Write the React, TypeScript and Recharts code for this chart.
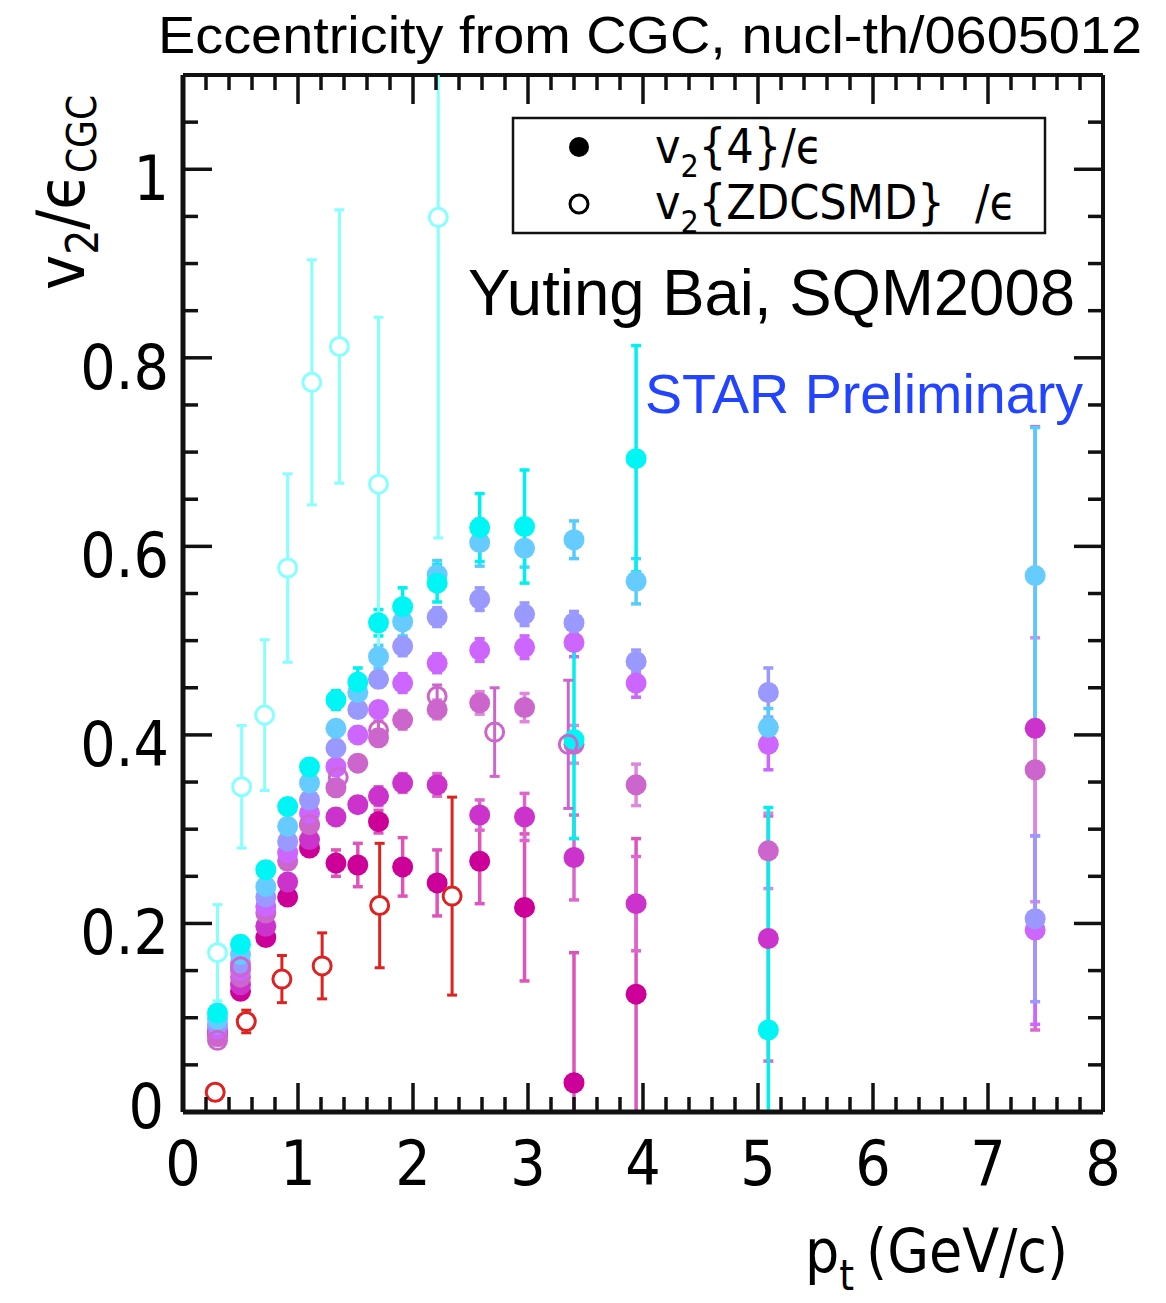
import React from 'react';
import { ScatterChart, Scatter, XAxis, YAxis, ErrorBar, ReferenceLine } from 'recharts';

// chart geometry (page pixels)
const W = 1166;
const H = 1303;
const PLOT_LEFT = 183;
const PLOT_TOP = 75;
const PLOT_RIGHT = 1103;
const PLOT_BOTTOM = 1112;
const PLOT_W = PLOT_RIGHT - PLOT_LEFT;
const PLOT_H = PLOT_BOTTOM - PLOT_TOP;

const NARROW = "'Liberation Sans Narrow', 'DejaVu Sans Condensed', sans-serif";
const ARIAL = "'Liberation Sans', Arial, sans-serif";

// tick labels
const xTickLabels = [0, 1, 2, 3, 4, 5, 6, 7, 8];
const yTickLabels = [0, 0.2, 0.4, 0.6, 0.8, 1];

// pt bins of the v2{4} points (GeV/c)
const ptBins = [0.3, 0.5, 0.72, 0.91, 1.1, 1.33, 1.52, 1.7, 1.91, 2.21, 2.58, 2.97, 3.4, 3.94, 5.09, 7.41];

// v2{4}/eps, one array per centrality class (most central first)
const v4Cyan = [0.105, 0.178, 0.257, 0.324, 0.366, 0.437, 0.456, 0.519, 0.536, 0.561, 0.62, 0.621, 0.395, 0.693, 0.087, null];
const v4CyanErr = [0.008, 0.008, 0.008, 0.008, 0.008, 0.01, 0.015, 0.014, 0.02, 0.02, 0.036, 0.06, 0.105, 0.12, 0.236, 0];
const v4LightBlue = [0.098, 0.167, 0.239, 0.303, 0.349, 0.407, 0.445, 0.483, 0.52, 0.57, 0.604, 0.598, 0.607, 0.563, 0.408, 0.569];
const v4LightBlueErr = [0.005, 0.005, 0.005, 0.006, 0.006, 0.008, 0.01, 0.012, 0.015, 0.015, 0.025, 0.02, 0.02, 0.024, 0.02, 0.157];
const v4Periwinkle = [0.093, 0.158, 0.228, 0.287, 0.331, 0.386, 0.427, 0.459, 0.494, 0.525, 0.544, 0.528, 0.519, 0.478, 0.445, 0.205];
const v4PeriwinkleErr = [0.005, 0.005, 0.005, 0.005, 0.006, 0.006, 0.008, 0.008, 0.01, 0.01, 0.012, 0.012, 0.012, 0.012, 0.026, 0.088];
const v4Violet = [0.088, 0.15, 0.218, 0.275, 0.317, 0.366, 0.4, 0.427, 0.455, 0.476, 0.49, 0.493, 0.498, 0.455, 0.39, 0.193];
const v4VioletErr = [0.005, 0.005, 0.005, 0.005, 0.006, 0.006, 0.008, 0.008, 0.01, 0.01, 0.012, 0.012, 0.015, 0.015, 0.027, 0.1];
const v4Orchid = [0.08, 0.143, 0.211, 0.266, 0.305, 0.344, 0.37, 0.397, 0.416, 0.427, 0.434, 0.429, 0.39, 0.347, 0.277, 0.363];
const v4OrchidErr = [0.005, 0.005, 0.005, 0.005, 0.006, 0.006, 0.008, 0.008, 0.01, 0.01, 0.012, 0.015, 0.02, 0.022, 0.04, 0.14];
const v4Magenta = [0.082, 0.135, 0.197, 0.244, 0.289, 0.313, 0.326, 0.335, 0.349, 0.347, 0.315, 0.313, 0.27, 0.221, 0.184, 0.407];
const v4MagentaErr = [0.005, 0.005, 0.005, 0.005, 0.006, 0.008, 0.008, 0.01, 0.01, 0.012, 0.016, 0.025, 0.045, 0.05, 0.13, 0.32];
const v4Deep = [0.085, 0.128, 0.185, 0.228, 0.28, 0.264, 0.262, 0.308, 0.26, 0.243, 0.266, 0.217, 0.031, 0.125, null, null];
const v4DeepErr = [0.005, 0.005, 0.005, 0.005, 0.006, 0.014, 0.023, 0.012, 0.031, 0.035, 0.045, 0.078, 0.138, 0.165, 0, 0];

// v2{ZDCSMD}/eps, open symbols
const zdcCyanPt = [0.3, 0.51, 0.71, 0.91, 1.12, 1.36, 1.7, 2.22];
const zdcCyan = [0.169, 0.345, 0.421, 0.577, 0.774, 0.812, 0.666, 0.949];
const zdcCyanErr = [0.051, 0.065, 0.08, 0.1, 0.13, 0.145, 0.177, 0.34];
const zdcOrchidPt = [0.3, 0.5, 1.1, 1.35, 1.7, 2.21, 2.71, 3.35];
const zdcOrchid = [0.076, 0.154, 0.305, 0.355, 0.405, 0.441, 0.403, 0.39];
const zdcOrchidErr = [0.005, 0.005, 0.006, 0.008, 0.01, 0.012, 0.047, 0.068];
const zdcRedPt = [0.28, 0.55, 0.86, 1.21, 1.71, 2.34];
const zdcRed = [0.021, 0.096, 0.141, 0.155, 0.219, 0.229];
const zdcRedErr = [0.008, 0.012, 0.025, 0.035, 0.066, 0.105];

type Pt = { x: number; y: number; err: number };

function toPoints(xs: number[], ys: (number | null)[], errs: number[]): Pt[] {
  const out: Pt[] = [];
  xs.forEach((x, i) => {
    const y = ys[i];
    if (y !== null && y !== undefined) out.push({ x, y, err: errs[i] });
  });
  return out;
}

// drawn from peripheral to central so the upper points sit on top
const filledSeries = [
  { key: 'deep', color: '#cc0099', bar: '#dd55bb', values: v4Deep, errors: v4DeepErr },
  { key: 'magenta', color: '#cc33cc', bar: '#dd66cc', values: v4Magenta, errors: v4MagentaErr },
  { key: 'orchid', color: '#cc66cc', bar: '#dd88dd', values: v4Orchid, errors: v4OrchidErr },
  { key: 'violet', color: '#cc66ff', bar: '#cc66ff', values: v4Violet, errors: v4VioletErr },
  { key: 'periwinkle', color: '#9999ff', bar: '#9999ff', values: v4Periwinkle, errors: v4PeriwinkleErr },
  { key: 'lightblue', color: '#66ccff', bar: '#55ccff', values: v4LightBlue, errors: v4LightBlueErr },
  { key: 'cyan', color: '#00f5f5', bar: '#00f0f0', values: v4Cyan, errors: v4CyanErr },
];

const openSeries = [
  { key: 'zdcCyan', color: '#88ffff', fill: '#ffffff', pts: toPoints(zdcCyanPt, zdcCyan, zdcCyanErr) },
  { key: 'zdcOrchid', color: '#cc66cc', fill: 'none', pts: toPoints(zdcOrchidPt, zdcOrchid, zdcOrchidErr) },
  { key: 'zdcRed', color: '#dd2222', fill: '#ffffff', pts: toPoints(zdcRedPt, zdcRed, zdcRedErr) },
];

// minor ticks every 0.2 on x, every 0.05 on y
const xTicks: number[] = [];
for (let k = 0; k <= 40; k++) xTicks.push(Math.round(k * 20) / 100);
const yTicks: number[] = [];
for (let k = 0; k <= 22; k++) yTicks.push(Math.round(k * 5) / 100);

const isLabelled = (v: number, labels: number[]) => labels.some((l) => Math.abs(l - v) < 1e-6);

function XTick(props: any) {
  const { x, y, payload } = props;
  const v = payload.value as number;
  const major = isLabelled(v, xTickLabels);
  const len = major ? 29 : 15;
  const edge = v <= 0 || v >= 8;
  return (
    <g>
      {!edge && <line x1={x} x2={x} y1={y} y2={y - len} stroke="#111" strokeWidth={3.5} />}
      {!edge && <line x1={x} x2={x} y1={y - PLOT_H} y2={y - PLOT_H + len} stroke="#111" strokeWidth={3.5} />}
      {major && (
        <text x={x} y={y + 73} textAnchor="middle" fontSize={62} fontFamily={NARROW} fill="#000">
          {v}
        </text>
      )}
    </g>
  );
}

function YTick(props: any) {
  const { x, y, payload } = props;
  const v = payload.value as number;
  const major = isLabelled(v, yTickLabels);
  const len = major ? 29 : 15;
  const edge = v <= 0 || v >= 1.1;
  return (
    <g>
      {!edge && <line x1={x} x2={x + len} y1={y} y2={y} stroke="#111" strokeWidth={3.5} />}
      {!edge && <line x1={x + PLOT_W} x2={x + PLOT_W - len} y1={y} y2={y} stroke="#111" strokeWidth={3.5} />}
      {major && (
        <text
          x={v === 0 ? x - 19 : x - 14}
          y={v === 0 ? y + 16 : y + 31}
          textAnchor="end"
          fontSize={62}
          fontFamily={NARROW}
          fill="#000"
        >
          {v}
        </text>
      )}
    </g>
  );
}

const dot = (color: string) => (p: any) => <circle cx={p.cx} cy={p.cy} r={10.5} fill={color} />;
const ring = (color: string, fill: string) => (p: any) => (
  <circle cx={p.cx} cy={p.cy} r={9} fill={fill} stroke={color} strokeWidth={3} />
);

// markers and error bars stay inside the frame
const clipCss = `
.recharts-scatter,
.recharts-surface [class*="errorBar"],
.recharts-surface [class*="error-bar"],
.recharts-surface [class*="ErrorBar"] { clip-path: url(#plotFrameClip); }
`;

function PlotClip() {
  return (
    <svg width={0} height={0} style={{ position: 'absolute' }}>
      <defs>
        <clipPath id="plotFrameClip" clipPathUnits="userSpaceOnUse">
          <rect x={PLOT_LEFT} y={PLOT_TOP} width={PLOT_W} height={PLOT_H} />
        </clipPath>
      </defs>
    </svg>
  );
}

function Annotations() {
  return (
    <svg width={W} height={H} style={{ position: 'absolute', left: 0, top: 0, pointerEvents: 'none' }}>
      <text x={158} y={53} fontSize={52} fontFamily={ARIAL} textLength={984} lengthAdjust="spacingAndGlyphs">
        Eccentricity from CGC, nucl-th/0605012
      </text>

      {/* legend */}
      <rect x={513} y={118} width={532} height={115} fill="none" stroke="#111" strokeWidth={2.5} />
      <circle cx={579} cy={147} r={10} fill="#000" />
      <circle cx={579} cy={204} r={9} fill="none" stroke="#000" strokeWidth={3} />
      <text x={655} y={163} fontSize={48} fontFamily={NARROW}>
        v<tspan fontSize={32} dy={14}>2</tspan>
        <tspan dy={-14}>{'{4}/ϵ'}</tspan>
      </text>
      <text x={655} y={219} fontSize={48} fontFamily={NARROW}>
        v<tspan fontSize={32} dy={14}>2</tspan>
        <tspan dy={-14}>{'{ZDCSMD}'}</tspan>
        <tspan x={975}>/ϵ</tspan>
      </text>

      <text x={468} y={315} fontSize={64} fontFamily={ARIAL} textLength={607} lengthAdjust="spacingAndGlyphs">
        Yuting Bai, SQM2008
      </text>
      <text x={645} y={413} fontSize={56} fontFamily={ARIAL} fill="#2244ff" textLength={438} lengthAdjust="spacingAndGlyphs">
        STAR Preliminary
      </text>

      {/* axis titles */}
      <text transform="translate(84, 290) rotate(-90)" fontSize={66} fontFamily={NARROW}>
        v<tspan fontSize={44} dy={14}>2</tspan>
        <tspan dy={-14}>/ϵ</tspan>
        <tspan fontSize={40} dy={12}>CGC</tspan>
      </text>
      <text x={805} y={1272} fontSize={60} fontFamily={NARROW}>
        p<tspan fontSize={42} dy={18}>t</tspan>
        <tspan dy={-18} dx={12}>(GeV/c)</tspan>
      </text>
    </svg>
  );
}

export default function App() {
  return (
    <div style={{ position: 'absolute', left: 0, top: 0, width: W, height: H, background: '#fff' }}>
      <style>{clipCss}</style>
      <PlotClip />
      <ScatterChart
        width={W}
        height={H}
        margin={{ top: PLOT_TOP, right: W - PLOT_RIGHT, bottom: H - PLOT_BOTTOM - 100, left: PLOT_LEFT - 120 }}
      >
        <XAxis
          type="number"
          dataKey="x"
          domain={[0, 8]}
          ticks={xTicks}
          interval={0}
          tickSize={0}
          tickMargin={0}
          tick={<XTick />}
          height={100}
          axisLine={{ stroke: '#111', strokeWidth: 5 }}
          allowDataOverflow
        />
        <YAxis
          type="number"
          dataKey="y"
          domain={[0, 1.1]}
          ticks={yTicks}
          interval={0}
          tickSize={0}
          tickMargin={0}
          tick={<YTick />}
          width={120}
          axisLine={{ stroke: '#111', strokeWidth: 5 }}
          allowDataOverflow
        />
        <ReferenceLine y={1.1} stroke="#111" strokeWidth={4} />
        <ReferenceLine x={8} stroke="#111" strokeWidth={4} />

        {filledSeries.map((s) => (
          <Scatter
            key={s.key}
            data={toPoints(ptBins, s.values, s.errors)}
            shape={dot(s.color)}
            isAnimationActive={false}
          >
            <ErrorBar dataKey="err" direction="y" width={5} stroke={s.bar} strokeWidth={3.5} />
          </Scatter>
        ))}
        {openSeries.map((s) => (
          <Scatter key={s.key} data={s.pts} shape={ring(s.color, s.fill)} isAnimationActive={false}>
            <ErrorBar dataKey="err" direction="y" width={5} stroke={s.color} strokeWidth={3} />
          </Scatter>
        ))}
      </ScatterChart>
      <Annotations />
    </div>
  );
}
